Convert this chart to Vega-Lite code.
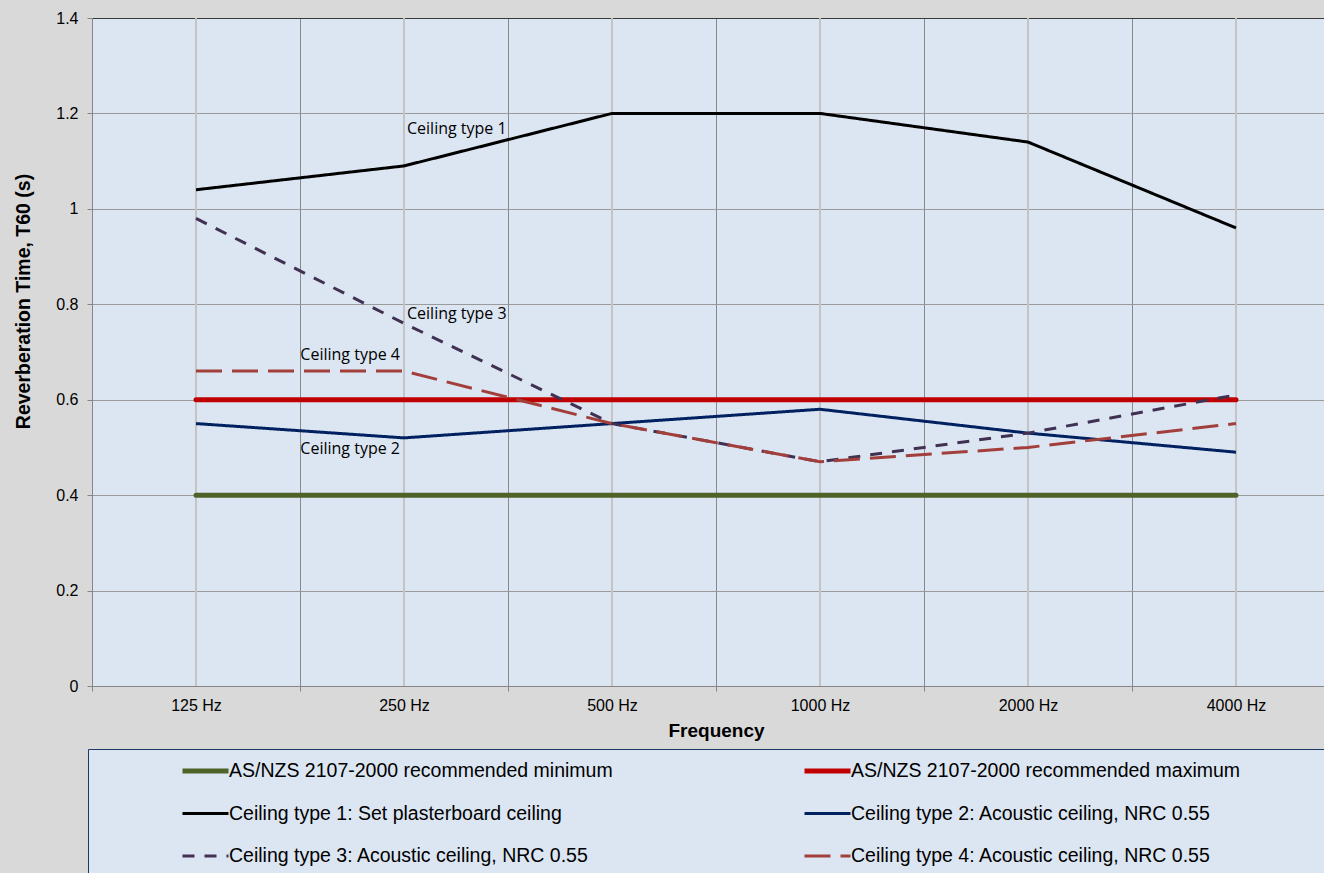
{
  "$schema": "https://vega.github.io/schema/vega-lite/v6.json",
  "width": 1232,
  "height": 668,
  "autosize": {"type": "none"},
  "padding": {"left": 92, "top": 18, "right": 0, "bottom": 187},
  "background": "#d9d9d9",
  "datasets": {
    "rt": [
      {"series": "AS/NZS 2107-2000 recommended minimum", "frequency": "125 Hz", "value": 0.4},
      {"series": "AS/NZS 2107-2000 recommended minimum", "frequency": "250 Hz", "value": 0.4},
      {"series": "AS/NZS 2107-2000 recommended minimum", "frequency": "500 Hz", "value": 0.4},
      {"series": "AS/NZS 2107-2000 recommended minimum", "frequency": "1000 Hz", "value": 0.4},
      {"series": "AS/NZS 2107-2000 recommended minimum", "frequency": "2000 Hz", "value": 0.4},
      {"series": "AS/NZS 2107-2000 recommended minimum", "frequency": "4000 Hz", "value": 0.4},
      {"series": "AS/NZS 2107-2000 recommended maximum", "frequency": "125 Hz", "value": 0.6},
      {"series": "AS/NZS 2107-2000 recommended maximum", "frequency": "250 Hz", "value": 0.6},
      {"series": "AS/NZS 2107-2000 recommended maximum", "frequency": "500 Hz", "value": 0.6},
      {"series": "AS/NZS 2107-2000 recommended maximum", "frequency": "1000 Hz", "value": 0.6},
      {"series": "AS/NZS 2107-2000 recommended maximum", "frequency": "2000 Hz", "value": 0.6},
      {"series": "AS/NZS 2107-2000 recommended maximum", "frequency": "4000 Hz", "value": 0.6},
      {"series": "Ceiling type 1: Set plasterboard ceiling", "frequency": "125 Hz", "value": 1.04},
      {"series": "Ceiling type 1: Set plasterboard ceiling", "frequency": "250 Hz", "value": 1.09},
      {"series": "Ceiling type 1: Set plasterboard ceiling", "frequency": "500 Hz", "value": 1.2},
      {"series": "Ceiling type 1: Set plasterboard ceiling", "frequency": "1000 Hz", "value": 1.2},
      {"series": "Ceiling type 1: Set plasterboard ceiling", "frequency": "2000 Hz", "value": 1.14},
      {"series": "Ceiling type 1: Set plasterboard ceiling", "frequency": "4000 Hz", "value": 0.96},
      {"series": "Ceiling type 2: Acoustic ceiling, NRC 0.55", "frequency": "125 Hz", "value": 0.55},
      {"series": "Ceiling type 2: Acoustic ceiling, NRC 0.55", "frequency": "250 Hz", "value": 0.52},
      {"series": "Ceiling type 2: Acoustic ceiling, NRC 0.55", "frequency": "500 Hz", "value": 0.55},
      {"series": "Ceiling type 2: Acoustic ceiling, NRC 0.55", "frequency": "1000 Hz", "value": 0.58},
      {"series": "Ceiling type 2: Acoustic ceiling, NRC 0.55", "frequency": "2000 Hz", "value": 0.53},
      {"series": "Ceiling type 2: Acoustic ceiling, NRC 0.55", "frequency": "4000 Hz", "value": 0.49},
      {"series": "Ceiling type 3: Acoustic ceiling, NRC 0.55", "frequency": "125 Hz", "value": 0.98},
      {"series": "Ceiling type 3: Acoustic ceiling, NRC 0.55", "frequency": "250 Hz", "value": 0.76},
      {"series": "Ceiling type 3: Acoustic ceiling, NRC 0.55", "frequency": "500 Hz", "value": 0.55},
      {"series": "Ceiling type 3: Acoustic ceiling, NRC 0.55", "frequency": "1000 Hz", "value": 0.47},
      {"series": "Ceiling type 3: Acoustic ceiling, NRC 0.55", "frequency": "2000 Hz", "value": 0.53},
      {"series": "Ceiling type 3: Acoustic ceiling, NRC 0.55", "frequency": "4000 Hz", "value": 0.61},
      {"series": "Ceiling type 4: Acoustic ceiling, NRC 0.55", "frequency": "125 Hz", "value": 0.66},
      {"series": "Ceiling type 4: Acoustic ceiling, NRC 0.55", "frequency": "250 Hz", "value": 0.66},
      {"series": "Ceiling type 4: Acoustic ceiling, NRC 0.55", "frequency": "500 Hz", "value": 0.55},
      {"series": "Ceiling type 4: Acoustic ceiling, NRC 0.55", "frequency": "1000 Hz", "value": 0.47},
      {"series": "Ceiling type 4: Acoustic ceiling, NRC 0.55", "frequency": "2000 Hz", "value": 0.5},
      {"series": "Ceiling type 4: Acoustic ceiling, NRC 0.55", "frequency": "4000 Hz", "value": 0.55}
    ],
    "notes": [
      {"label": "Ceiling type 1", "frequency": "250 Hz", "value": 1.167, "side": "left"},
      {"label": "Ceiling type 3", "frequency": "250 Hz", "value": 0.779, "side": "left"},
      {"label": "Ceiling type 4", "frequency": "250 Hz", "value": 0.694, "side": "right"},
      {"label": "Ceiling type 2", "frequency": "250 Hz", "value": 0.497, "side": "right"}
    ]
  },
  "layer": [
    {
      "data": {"name": "rt"},
      "mark": {"type": "rule", "color": "#c3c3c3", "strokeWidth": 1},
      "encoding": {
        "x": {
          "field": "frequency", "type": "nominal", "bandPosition": 0.5,
          "sort": ["125 Hz", "250 Hz", "500 Hz", "1000 Hz", "2000 Hz", "4000 Hz"],
          "scale": {"type": "band", "range": [0, 1248], "paddingInner": 0, "paddingOuter": 0},
          "axis": {
            "orient": "bottom", "title": "Frequency", "tickBand": "extent",
            "grid": true, "gridColor": "#8a8a8a", "domainColor": "#868686", "tickColor": "#868686",
            "tickSize": 5, "labelAngle": 0, "labelFont": "Liberation Sans", "labelFontSize": 16,
            "labelColor": "#000000", "labelPadding": 6,
            "titleFont": "Liberation Sans", "titleFontSize": 19, "titleFontWeight": "bold",
            "titleColor": "#000000", "titlePadding": 8
          }
        }
      }
    },
    {
      "data": {"name": "rt"},
      "encoding": {
        "x": {
          "field": "frequency", "type": "nominal", "bandPosition": 0.5,
          "sort": ["125 Hz", "250 Hz", "500 Hz", "1000 Hz", "2000 Hz", "4000 Hz"],
          "axis": {"orient": "top", "title": null, "labels": false, "ticks": false, "grid": false, "domainColor": "#3a3a3a"}
        },
        "y": {
          "field": "value", "type": "quantitative",
          "scale": {"domain": [0, 1.4], "nice": false},
          "axis": {
            "values": [0, 0.2, 0.4, 0.6, 0.8, 1, 1.2, 1.4], "format": "~g",
            "title": "Reverberation Time, T60 (s)", "titleY": 283,
            "grid": true, "gridColor": "#9a9a9a", "domainColor": "#868686", "tickColor": "#868686",
            "tickSize": 5, "labelFont": "Liberation Sans", "labelFontSize": 16, "labelColor": "#000000",
            "labelPadding": 9,
            "titleFont": "Liberation Sans", "titleFontSize": 19.5, "titleFontWeight": "bold",
            "titleColor": "#000000", "titlePadding": 22
          }
        },
        "color": {
          "field": "series", "type": "nominal",
          "scale": {
            "domain": ["AS/NZS 2107-2000 recommended minimum", "Ceiling type 1: Set plasterboard ceiling", "Ceiling type 3: Acoustic ceiling, NRC 0.55", "AS/NZS 2107-2000 recommended maximum", "Ceiling type 2: Acoustic ceiling, NRC 0.55", "Ceiling type 4: Acoustic ceiling, NRC 0.55"],
            "range": ["#4f6228", "#000000", "#403152", "#c00000", "#002060", "#a23f3b"]
          },
          "legend": {"title": " "}
        },
        "strokeDash": {
          "field": "series", "type": "nominal",
          "scale": {
            "domain": ["AS/NZS 2107-2000 recommended minimum", "Ceiling type 1: Set plasterboard ceiling", "Ceiling type 3: Acoustic ceiling, NRC 0.55", "AS/NZS 2107-2000 recommended maximum", "Ceiling type 2: Acoustic ceiling, NRC 0.55", "Ceiling type 4: Acoustic ceiling, NRC 0.55"],
            "range": [[1, 0], [1, 0], [12, 10], [1, 0], [1, 0], [26, 10]]
          },
          "legend": {"title": " "}
        },
        "strokeWidth": {
          "field": "series", "type": "nominal",
          "scale": {
            "type": "ordinal",
            "domain": ["AS/NZS 2107-2000 recommended minimum", "Ceiling type 1: Set plasterboard ceiling", "Ceiling type 3: Acoustic ceiling, NRC 0.55", "AS/NZS 2107-2000 recommended maximum", "Ceiling type 2: Acoustic ceiling, NRC 0.55", "Ceiling type 4: Acoustic ceiling, NRC 0.55"],
            "range": [5, 3, 3, 5, 3, 3]
          },
          "legend": {"title": " "}
        }
      },
      "layer": [
        {
          "transform": [{"filter": "indexof(datum.series, 'AS/NZS') === 0"}],
          "mark": {"type": "line", "strokeCap": "round"}
        },
        {
          "transform": [{"filter": "indexof(datum.series, 'Ceiling') === 0"}],
          "mark": {"type": "line", "strokeCap": "butt"}
        }
      ]
    },
    {
      "data": {"name": "notes"},
      "transform": [{"filter": "datum.side === 'left'"}],
      "mark": {"type": "text", "align": "left", "baseline": "middle", "dx": 3, "font": "Open Sans", "fontSize": 16, "color": "#000000"},
      "encoding": {
        "x": {"field": "frequency", "type": "nominal", "bandPosition": 0.5, "sort": ["125 Hz", "250 Hz", "500 Hz", "1000 Hz", "2000 Hz", "4000 Hz"], "axis": null},
        "y": {"field": "value", "type": "quantitative"},
        "text": {"field": "label"}
      }
    },
    {
      "data": {"name": "notes"},
      "transform": [{"filter": "datum.side === 'right'"}],
      "mark": {"type": "text", "align": "right", "baseline": "middle", "dx": -4, "font": "Open Sans", "fontSize": 16, "color": "#000000"},
      "encoding": {
        "x": {"field": "frequency", "type": "nominal", "bandPosition": 0.5, "sort": ["125 Hz", "250 Hz", "500 Hz", "1000 Hz", "2000 Hz", "4000 Hz"], "axis": null},
        "y": {"field": "value", "type": "quantitative"},
        "text": {"field": "label"}
      }
    }
  ],
  "resolve": {"axis": {"x": "independent"}},
  "config": {
    "view": {"fill": "#dce6f2", "stroke": null},
    "legend": {
      "orient": "none", "legendX": -4, "legendY": 731, "columns": 2,
      "titleOrient": "right", "titlePadding": 90, "titleFontSize": 2,
      "symbolType": "stroke", "symbolSize": 2116, "symbolOffset": 80, "labelOffset": -2,
      "clipHeight": 20, "rowPadding": 22.5, "columnPadding": 109, "padding": 12,
      "fillColor": "#dce6f2", "strokeColor": "#1f3864",
      "labelFont": "Liberation Sans", "labelFontSize": 19.5, "labelLimit": 1000, "labelColor": "#000000"
    }
  }
}
